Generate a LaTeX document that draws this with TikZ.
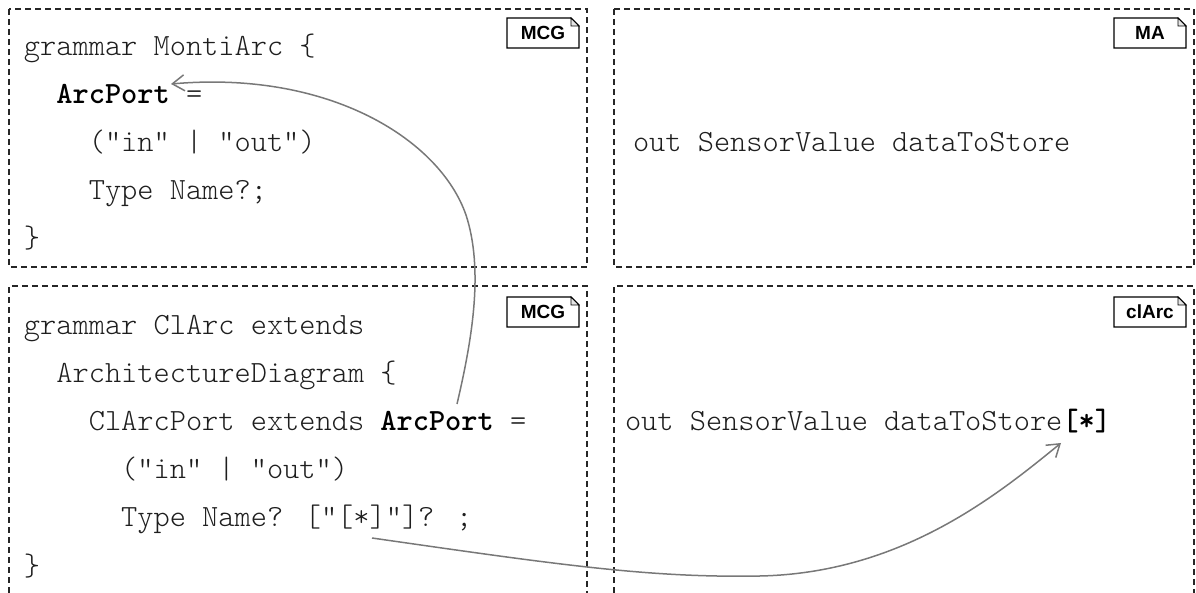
\documentclass[tikz,border=0pt]{standalone}
\usepackage{fontspec}
\newfontfamily\cmono{lmmonolt10-regular.otf}[BoldFont=lmmonolt10-bold.otf]
\newfontfamily\tagsf{Liberation Sans}
\usetikzlibrary{arrows.meta}
\definecolor{txt}{RGB}{30,30,30}
\definecolor{arr}{RGB}{120,120,120}
\begin{document}
\begin{tikzpicture}[x=0.5pt,y=-0.5pt,
  code/.style={anchor=base west,inner sep=0pt,outer sep=0pt,font=\cmono\fontsize{15.43}{18}\selectfont,text=txt},
  kw/.style={code,font=\cmono\bfseries\fontsize{15.43}{18}\selectfont,text=black},
  panel/.style={draw=black!85,line width=0.6pt,dash pattern=on 3pt off 2pt},
  tagtxt/.style={inner sep=0pt,outer sep=0pt,minimum width=36pt,minimum height=15pt,font=\tagsf\bfseries\fontsize{9.5}{11}\selectfont},
  tagline/.style={draw=black,line width=0.6pt},
  link/.style={draw=arr,line width=0.75pt,-{Straight Barb[length=6pt,width=8pt]}}]
\useasboundingbox (0,0) rectangle (1196,593);
% panels
\draw[panel] (9,9) rectangle (587,267);
\draw[panel] (614,9) rectangle (1194,267);
\draw[panel] (9,593) -- (9,286) -- (587,286) -- (587,593);
\draw[panel] (614,593) -- (614,286) -- (1194,286) -- (1194,593);
% tags
\foreach \n/\x/\y/\t in {tA/543/33/MCG, tB/1150/33/MA, tC/543/312/MCG, tD/1150/312/clArc}{
  \node[tagtxt] (\n) at (\x,\y) {\t};
  \draw[tagline,fill=white] (\n.south west) -- (\n.north west) -- ([xshift=-4pt]\n.north east) -- ([yshift=-4pt]\n.north east) -- (\n.south east) -- cycle;
  \draw[tagline,fill=black!10,line width=0.4pt] ([xshift=-4pt]\n.north east) -- ([xshift=-4pt,yshift=-4pt]\n.north east) -- ([yshift=-4pt]\n.north east) -- cycle;
  \node[tagtxt] at (\n) {\t};
}
% top left
\node[code] (g1) at (24,56) {grammar MontiArc \{};
\node[kw] (arcA) at (56.4,104) {ArcPort};
\node[code] (eqA) at (arcA.base east) {\ =};
\node[code] (g3) at (88.8,152) {("in" | "out")};
\node[code] (g4) at (88.8,200) {Type Name?;};
\node[code] (g5) at (24,248) {\}};
% bottom left
\node[code] (h1) at (24,335) {grammar ClArc extends};
\node[code] (h2) at (56.4,383) {ArchitectureDiagram \{};
\node[code] (h3) at (88.8,431) {ClArcPort extends};
\node[kw] (arcB) at (380.4,431) {ArcPort};
\node[code] (eqB) at (arcB.base east) {\ =};
\node[code] (h4) at (121.2,479) {("in" | "out")};
\node[code] (h5) at (121.2,527) {Type Name? ["[*]"]? ;};
\node[code] (h6) at (24,575) {\}};
% right
\node[code] (m1) at (633,152) {out SensorValue dataToStore};
\node[code] (c1) at (625,431) {out SensorValue dataToStore};
\node[kw] (star) at (c1.base east) {[*]};
% connectors
\coordinate (s1) at (457,404);
\coordinate (e1) at (171,84);
\coordinate (s2) at (372,538);
\coordinate (e2) at (1061,443);
\draw[link] (s1) .. controls (472,340) and (484,270) .. (466,215) .. controls (440,140) and (330,70) .. (e1);
\draw[link] (s2) .. controls (560,565) and (650,578) .. (760,576) .. controls (900,573) and (995,497) .. (e2);
\end{tikzpicture}
\end{document}
